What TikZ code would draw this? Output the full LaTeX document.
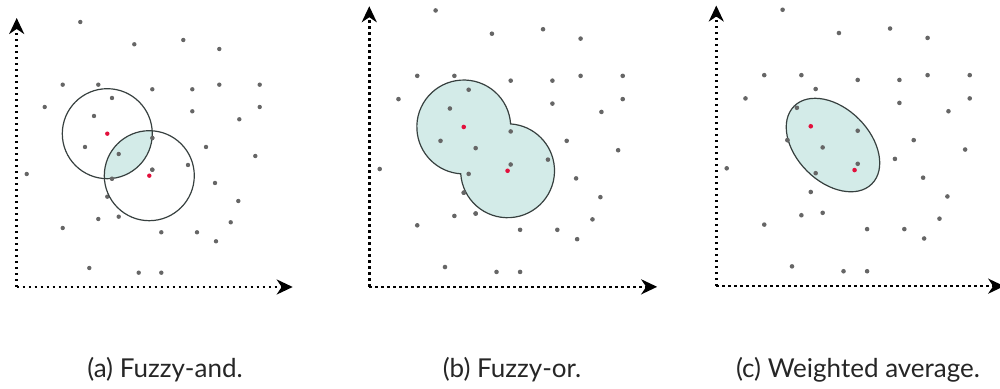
\documentclass[tikz,border=0pt]{standalone}
\usepackage{fontspec}
\setmainfont{Lato}
\usetikzlibrary{arrows.meta}
\definecolor{dotgray}{HTML}{666666}
\definecolor{dotred}{HTML}{E2103C}
\definecolor{regionfill}{HTML}{D3EBE8}
\definecolor{regionline}{HTML}{37403F}
\newcommand\panelbase[1]{%
  \coordinate (#1o) at (16.7,102);
  \coordinate (#1y) at (16.7,371);
  \coordinate (#1x) at (292.7,102);
  \draw[axisline] (#1o) -- (#1y);
  \draw[axisline] (#1o) -- (#1x);
  \foreach \px/\py in {80.3/367,134.3/344.7,183.3/349,219.3/340,62.7/304.3,98.3/304.3,
    152.3/299.7,192.3/299.7,219.3/304.3,259.7/304.3,44.7/282,112/291,192.3/277.7,
    259.7/282,94/273,239.3/269.7,152.3/251,85/242,206/242,118.7/235,255.3/233,
    188/224,152.3/219.3,26.7/215,112/210.3,215/206,107.3/192.3,238.3/188,98.3/170,
    118.7/172.3,230.7/166.7,62.7/161,161.3/156.7,197/156.7,216/147.7,89.3/121,
    138.7/116.3,161.3/116.3}
    {\fill[dotgray] (\px,\py) circle (2.2);}
}
\newcommand\reddots{%
  \fill[dotred] (107.3,255.3) circle (2.2);
  \fill[dotred] (149.3,213.3) circle (2.2);
}
\begin{document}
\begin{tikzpicture}[x=0.5pt,y=0.5pt,
  axisline/.style={line width=1.25pt,dash pattern=on 1.2pt off 1.8pt,
    -{Stealth[length=8pt,width=7.5pt,inset=2.5pt]}},
  region/.style={fill=regionfill,draw=regionline,line width=0.6pt},
  outline/.style={draw=regionline,line width=0.6pt},
  caption/.style={anchor=base,font=\fontsize{13pt}{15pt}\selectfont,text=black!85}]
\useasboundingbox (0,0) rectangle (1000,389);
% panel (a)
\begin{scope}
  \panelbase{a}
  \fill[regionfill] (107.3,255.3) ++(3.7:45) arc[start angle=3.7,end angle=-93.7,radius=45]
    arc[start angle=183.7,end angle=86.3,radius=45] -- cycle;
  \draw[outline] (107.3,255.3) circle (45);
  \draw[outline] (149.3,213.3) circle (45);
  \foreach \px/\py in {152.3/251,118.7/235,152.3/219.3,112/210.3}
    {\fill[dotgray] (\px,\py) circle (2.2);}
  \reddots
\end{scope}
% panel (b)
\begin{scope}[shift={(351.85,-4.25)},scale=1.043]
  \panelbase{b}
  \path[region] (107.3,255.3) ++(3.7:45) arc[start angle=3.7,end angle=266.3,radius=45]
    arc[start angle=183.7,end angle=446.3,radius=45] -- cycle;
  \foreach \px/\py in {112/291,94/273,152.3/251,85/242,118.7/235,188/224,152.3/219.3,
    112/210.3,107.3/192.3,118.7/172.3}
    {\fill[dotgray] (\px,\py) circle (2.2);}
  \reddots
\end{scope}
% panel (c)
\begin{scope}[shift={(698.85,-3.55)},scale=1.043]
  \panelbase{c}
  \draw[region,rotate around={-45:(128.6,237.3)}] (128.6,237.3) ellipse [x radius=52.7,y radius=35.2];
  \foreach \px/\py in {94/273,152.3/251,85/242,118.7/235,152.3/219.3,112/210.3}
    {\fill[dotgray] (\px,\py) circle (2.2);}
  \reddots
\end{scope}
\node[caption] (capa) at (165,11) {(a) Fuzzy-and.};
\node[caption] (capb) at (512,11) {(b) Fuzzy-or.};
\node[caption] (capc) at (858,11) {(c) Weighted average.};
\end{tikzpicture}
\end{document}
